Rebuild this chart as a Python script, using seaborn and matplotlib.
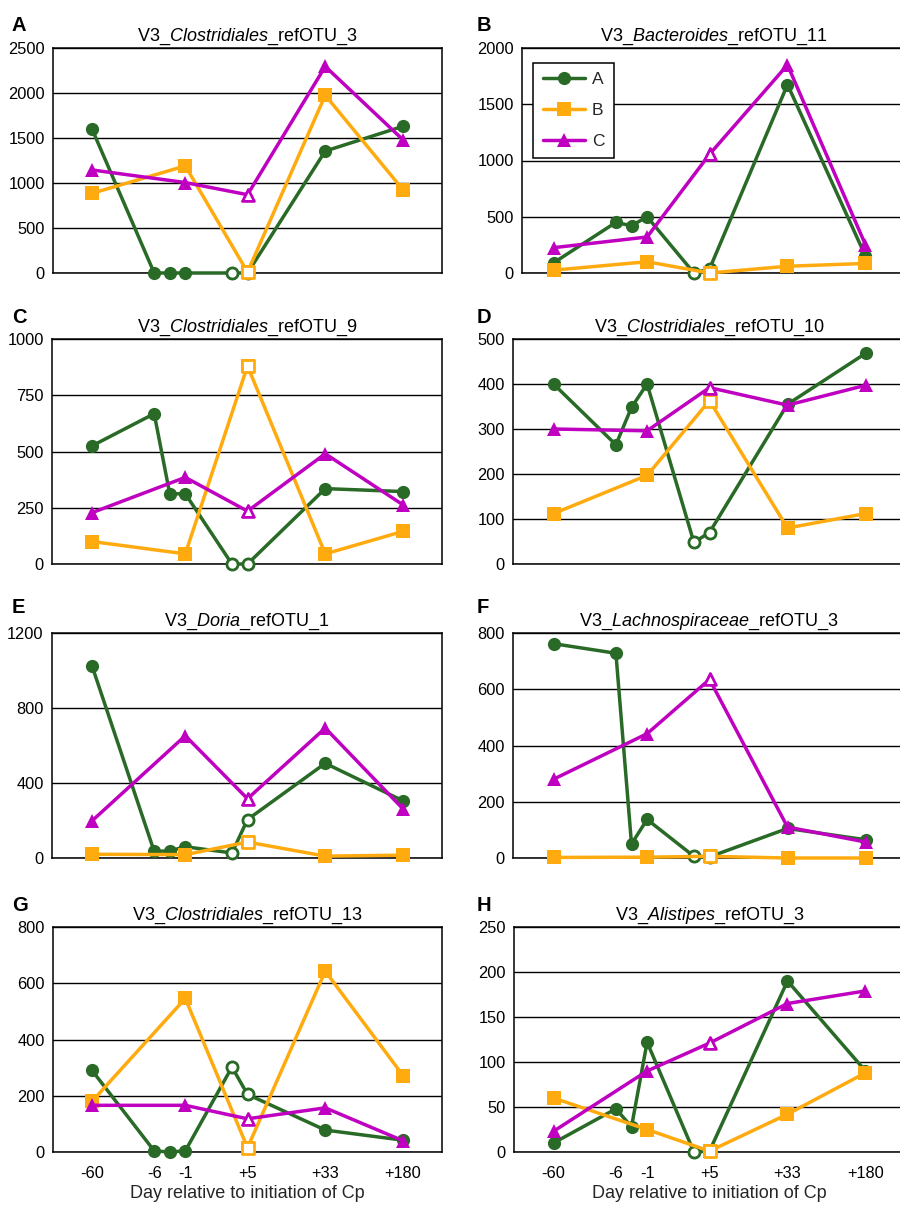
import numpy as np
import pandas as pd
import seaborn as sns
import matplotlib.pyplot as plt

# sampling days; series A has two extra draws (around -6/-1 and just before +5)
days_a = ["-60", "-6", "-6b", "-1", "+5a", "+5", "+33", "+180"]
days_bc = ["-60", "-1", "+5", "+33", "+180"]
tick_days = ["-60", "-6", "-1", "+5", "+33", "+180"]
series_names = ["A", "B", "C"]

titles = [
    ("Clostridiales", "refOTU_3"),
    ("Bacteroides", "refOTU_11"),
    ("Clostridiales", "refOTU_9"),
    ("Clostridiales", "refOTU_10"),
    ("Doria", "refOTU_1"),
    ("Lachnospiraceae", "refOTU_3"),
    ("Clostridiales", "refOTU_13"),
    ("Alistipes", "refOTU_3"),
]
panel_letters = ["A", "B", "C", "D", "E", "F", "G", "H"]

clos3_a = [1600, 0, 0, 0, 0, 0, 1355, 1630]
clos3_b = [885, 1190, 10, 1975, 925]
clos3_c = [1145, 1005, 870, 2295, 1480]

bact11_a = [90, 450, 420, 500, 0, 35, 1675, 150]
bact11_b = [25, 100, 0, 60, 85]
bact11_c = [225, 320, 1055, 1850, 250]

clos9_a = [525, 668, 312, 312, 0, 0, 335, 322]
clos9_b = [100, 45, 880, 45, 145]
clos9_c = [228, 385, 235, 490, 263]

clos10_a = [400, 265, 348, 400, 48, 70, 355, 468]
clos10_b = [112, 197, 363, 80, 112]
clos10_c = [300, 296, 392, 353, 397]

doria1_a = [1025, 35, 38, 60, 27, 205, 505, 305]
doria1_b = [20, 18, 85, 10, 15]
doria1_c = [198, 652, 316, 693, 262]

lachno3_a = [762, 728, 50, 137, 6, 4, 105, 65]
lachno3_b = [2, 3, 6, 0, 0]
lachno3_c = [280, 442, 635, 110, 57]

clos13_a = [290, 4, 0, 4, 302, 205, 78, 42]
clos13_b = [180, 546, 15, 643, 272]
clos13_c = [166, 166, 118, 157, 40]

alist3_a = [10, 48, 28, 122, 0, 1, 190, 90]
alist3_b = [60, 25, 1, 42, 88]
alist3_c = [23, 90, 121, 165, 179]

panel_data = [
    (clos3_a, clos3_b, clos3_c),
    (bact11_a, bact11_b, bact11_c),
    (clos9_a, clos9_b, clos9_c),
    (clos10_a, clos10_b, clos10_c),
    (doria1_a, doria1_b, doria1_c),
    (lachno3_a, lachno3_b, lachno3_c),
    (clos13_a, clos13_b, clos13_c),
    (alist3_a, alist3_b, alist3_c),
]
y_max = [2500, 2000, 1000, 500, 1200, 800, 800, 250]
y_step = [500, 500, 250, 100, 400, 200, 200, 50]

# layout / style
XPOS = {"-60": 0, "-6": 4, "-6b": 5, "-1": 6, "+5a": 9, "+5": 10, "+33": 15, "+180": 20}
OPEN_DAYS = {"+5a", "+5"}
COLORS = ["#286a26", "#ffab0f", "#bf00c0"]
MARKERS = ["o", "s", "^"]
MSIZE = [9.5, 9.5, 10]

sns.set_theme(style="white")
plt.rcParams["font.family"] = ["Liberation Sans", "DejaVu Sans"]
plt.rcParams["mathtext.fontset"] = "custom"
plt.rcParams["mathtext.rm"] = "Liberation Sans"
plt.rcParams["mathtext.it"] = "Liberation Sans:italic"

W, H = 900, 1209
fig = plt.figure(figsize=(W / 100, H / 100), dpi=100)

row_top = [48, 339, 633, 927]
ax_h = 225
letter_base = [31, 323, 613, 911]
# left spine pixel per panel, data origin pixel and scale per column
left_spine = [53, 522, 52, 513, 52, 513, 53, 514]
col_x0 = [92, 553.5]
col_scale = [15.55, 15.6]
x_right = 22.5


def draw_panel(ax, vals, show_legend):
    for i, v in enumerate(vals):
        days = days_a if i == 0 else days_bc
        df = pd.DataFrame({"x": [XPOS[d] for d in days], "y": v, "day": days})
        sns.lineplot(data=df, x="x", y="y", ax=ax, color=COLORS[i],
                     marker=MARKERS[i], markersize=MSIZE[i], markeredgecolor=COLORS[i],
                     markeredgewidth=0, linewidth=2.5, estimator=None, sort=False,
                     label=series_names[i], clip_on=False, zorder=3 + i)
        op = df[df["day"].isin(OPEN_DAYS)]
        sns.scatterplot(data=op, x="x", y="y", ax=ax, marker=MARKERS[i],
                        s=(MSIZE[i] - 1.5) ** 2, facecolor="white", edgecolor=COLORS[i],
                        linewidth=2.0, clip_on=False, zorder=3.5 + i, label="_nolegend_")
    leg = ax.get_legend()
    if leg is not None:
        leg.remove()
    if show_legend:
        handles = [l for l in ax.get_lines() if l.get_label() in series_names]
        lg = ax.legend(handles=handles, labels=series_names, loc="upper left",
                       bbox_to_anchor=(0.03, 0.935), fontsize=12.5, frameon=True,
                       fancybox=False, edgecolor="black", handlelength=2.4,
                       handletextpad=0.4, labelspacing=0.9, borderpad=0.55,
                       borderaxespad=0)
        lg.get_frame().set_linewidth(1.1)
        lg.get_frame().set_alpha(1)


for k in range(8):
    row, col = divmod(k, 2)
    L = left_spine[k]
    x0, sc = col_x0[col], col_scale[col]
    right_px = x0 + x_right * sc
    top = row_top[row]
    ax = fig.add_axes([L / W, 1 - (top + ax_h) / H, (right_px - L) / W, ax_h / H])
    draw_panel(ax, panel_data[k], k == 1)

    ax.set_xlim((L - x0) / sc, x_right)
    ax.set_ylim(0, y_max[k])
    yt = np.arange(0, y_max[k] + 1, y_step[k])
    ax.set_yticks(yt)
    ax.set_yticklabels([str(t) for t in yt], fontsize=11.8)
    for t in yt:
        ax.axhline(t, color="black", lw=1.0, zorder=1)
    ax.set_xticks([XPOS[d] for d in tick_days])
    if row == 3:
        ax.set_xticklabels(tick_days, fontsize=11.8)
        ax.set_xlabel("Day relative to initiation of Cp", fontsize=13, labelpad=3)
    else:
        ax.set_xticklabels([])
        ax.set_xlabel("")
    ax.set_ylabel("")
    ax.tick_params(axis="both", length=0, colors="black")
    ax.tick_params(axis="y", pad=6)
    ax.tick_params(axis="x", pad=10)
    for s in ax.spines.values():
        s.set_color("black")
        s.set_linewidth(1.1)
        s.set_visible(True)

    genus, otu = titles[k]
    ax.set_title("V3_$\\it{" + genus + "}$_" + otu, fontsize=13, pad=5, color="black")

    lx = 12 if col == 0 else 477
    fig.text(lx / W, 1 - letter_base[row] / H, panel_letters[k], fontsize=14.5,
             fontweight="bold", va="baseline", ha="left", color="black")

fig.savefig("out.png", dpi=100)
